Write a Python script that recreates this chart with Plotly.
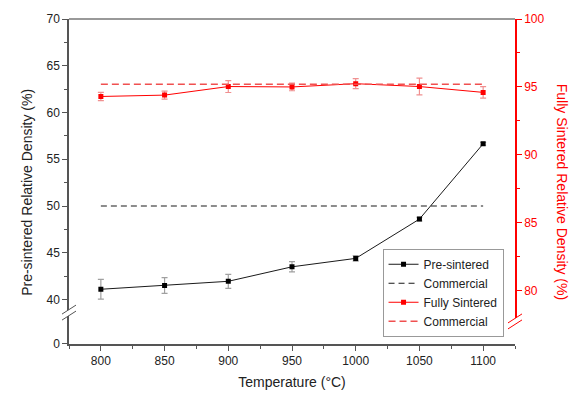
import plotly.graph_objects as go

# Sintering temperatures (°C)
temperature = [800, 850, 900, 950, 1000, 1050, 1100]

# Pre-sintered relative density (%) and its spread
pre_sintered = [41.1, 41.5, 41.95, 43.5, 44.4, 48.6, 56.65]
pre_sintered_err = [1.05, 0.85, 0.75, 0.55, 0.3, 0.2, 0.15]

# Fully sintered relative density (%) and its spread
fully_sintered = [94.3, 94.4, 95.03, 95.0, 95.24, 95.03, 94.6]
fully_sintered_err = [0.3, 0.3, 0.44, 0.28, 0.37, 0.62, 0.42]

# Commercial reference densities (%)
commercial_pre = 50.0
commercial_full = 95.2
commercial_span = [800, 1100]

FONT = "Liberation Sans, Arial, sans-serif"
AXIS_GREY = "#555555"
RED = "#ff0000"

# Fraction of plot height given to the short "0" segment below the axis break
brk = 0.0725
PLOT_H = 331.0


def frac(px_from_bottom):
    return px_from_bottom / PLOT_H


fig = go.Figure()

fig.add_trace(go.Scatter(
    x=temperature, y=pre_sintered, name="Pre-sintered",
    mode="lines+markers",
    line=dict(color="#1a1a1a", width=1),
    marker=dict(symbol="square", size=5, color="#000000"),
    error_y=dict(type="data", array=pre_sintered_err, color="#a0a0a0",
                 thickness=1.2, width=3),
    xaxis="x", yaxis="y",
))
fig.add_trace(go.Scatter(
    x=commercial_span, y=[commercial_pre] * 2, name="Commercial",
    mode="lines", line=dict(color="#1a1a1a", width=1.2, dash="6px,4px"),
    xaxis="x", yaxis="y",
))
fig.add_trace(go.Scatter(
    x=temperature, y=fully_sintered, name="Fully Sintered",
    mode="lines+markers",
    line=dict(color=RED, width=1),
    marker=dict(symbol="square", size=5, color=RED),
    error_y=dict(type="data", array=fully_sintered_err, color="#f09090",
                 thickness=1.2, width=3),
    xaxis="x", yaxis="y2",
))
fig.add_trace(go.Scatter(
    x=commercial_span, y=[commercial_full] * 2, name="Commercial",
    mode="lines", line=dict(color="#f05050", width=1.5, dash="7px,4px"),
    xaxis="x", yaxis="y2",
))
# Empty trace so the lower (zero) segment subplot exists
fig.add_trace(go.Scatter(x=[], y=[], xaxis="x", yaxis="y3",
                         showlegend=False, hoverinfo="skip"))

tickfont = dict(family=FONT, size=12, color="#222222")
redfont = dict(family=FONT, size=12, color=RED)

fig.update_layout(
    width=577, height=400,
    margin=dict(l=69, r=62, t=16, b=53),
    paper_bgcolor="white", plot_bgcolor="white",
    font=dict(family=FONT, size=12, color="#222222"),
    showlegend=True,
    legend=dict(
        x=0.703, y=frac(347 - 250), xanchor="left", yanchor="top",
        bgcolor="white", bordercolor="#999999", borderwidth=1,
        font=dict(family=FONT, size=12, color="#222222"),
        tracegroupgap=0, itemwidth=30,
    ),
    xaxis=dict(
        range=[775, 1125], anchor="y3", domain=[0, 1],
        tickmode="linear", tick0=800, dtick=50,
        ticks="outside", ticklen=5, tickwidth=1, tickcolor=AXIS_GREY,
        minor=dict(ticks="outside", ticklen=3, dtick=25, tick0=800,
                   tickcolor=AXIS_GREY),
        showline=True, linecolor=AXIS_GREY, linewidth=1.5,
        showgrid=False, zeroline=False, tickfont=tickfont,
        title=dict(text="Temperature (°C)", standoff=10,
                   font=dict(family=FONT, size=14, color="#222222")),
    ),
    yaxis=dict(
        domain=[brk, 1], range=[37.765, 70], anchor="x",
        tickmode="linear", tick0=40, dtick=5,
        ticks="outside", ticklen=5, tickwidth=1, tickcolor=AXIS_GREY,
        minor=dict(ticks="outside", ticklen=3, dtick=2.5, tick0=40,
                   tickcolor=AXIS_GREY),
        showline=True, linecolor=AXIS_GREY, linewidth=1.5,
        showgrid=False, zeroline=False, tickfont=tickfont,
    ),
    yaxis2=dict(
        overlaying="y", side="right", anchor="x",
        range=[77.82, 100],
        tickmode="linear", tick0=80, dtick=5,
        ticks="outside", ticklen=5, tickwidth=1, tickcolor=RED,
        minor=dict(ticks="outside", ticklen=3, dtick=2.5, tick0=80,
                   tickcolor=RED),
        showline=True, linecolor=RED, linewidth=1.5,
        showgrid=False, zeroline=False, tickfont=redfont,
    ),
    yaxis3=dict(
        domain=[0, brk], range=[0, 1], anchor="x",
        tickmode="array", tickvals=[0], ticktext=["0"],
        ticks="outside", ticklen=5, tickwidth=1, tickcolor=AXIS_GREY,
        showline=True, linecolor=AXIS_GREY, linewidth=1.5,
        showgrid=False, zeroline=False, tickfont=tickfont,
    ),
    yaxis4=dict(
        overlaying="y3", side="right", anchor="x",
        range=[0, 1],
        tickmode="array", tickvals=[0], ticktext=["0"],
        ticks="outside", ticklen=5, tickwidth=1, tickcolor=RED,
        showline=True, linecolor=RED, linewidth=1.5,
        showgrid=False, zeroline=False, tickfont=redfont,
    ),
)

# Frame line along the top of the plot area
fig.add_shape(type="line", xref="paper", yref="paper",
              x0=0, x1=1, y0=1, y1=1,
              line=dict(color="#777777", width=1.5))

# Axis-break marks on both vertical axes
for xpos, ypix, col in [(0, 315, AXIS_GREY), (1, 324, RED)]:
    ya = frac(347 - ypix)
    fig.add_shape(type="line", xref="paper", yref="paper",
                  xsizemode="pixel", ysizemode="pixel",
                  xanchor=xpos, yanchor=ya,
                  x0=-4, x1=4, y0=-2.5, y1=2.5,
                  line=dict(color="white", width=5))
    for off in (-3, 3):
        fig.add_shape(type="line", xref="paper", yref="paper",
                      xsizemode="pixel", ysizemode="pixel",
                      xanchor=xpos, yanchor=ya,
                      x0=-7, x1=7, y0=-4.5 + off, y1=4.5 + off,
                      line=dict(color=col, width=1))

# Vertical axis titles
fig.add_annotation(text="Pre-sintered Relative Density (%)",
                   xref="paper", yref="paper", x=-0.094, y=frac(347 - 193),
                   xanchor="center", yanchor="middle", textangle=-90,
                   showarrow=False,
                   font=dict(family=FONT, size=14, color="#222222"))
fig.add_annotation(text="Fully Sintered Relative Density (%)",
                   xref="paper", yref="paper", x=1.1055, y=frac(347 - 192),
                   xanchor="center", yanchor="middle", textangle=90,
                   showarrow=False,
                   font=dict(family=FONT, size=14, color=RED))

fig.write_html("out.html", config=dict(displayModeBar=False))
